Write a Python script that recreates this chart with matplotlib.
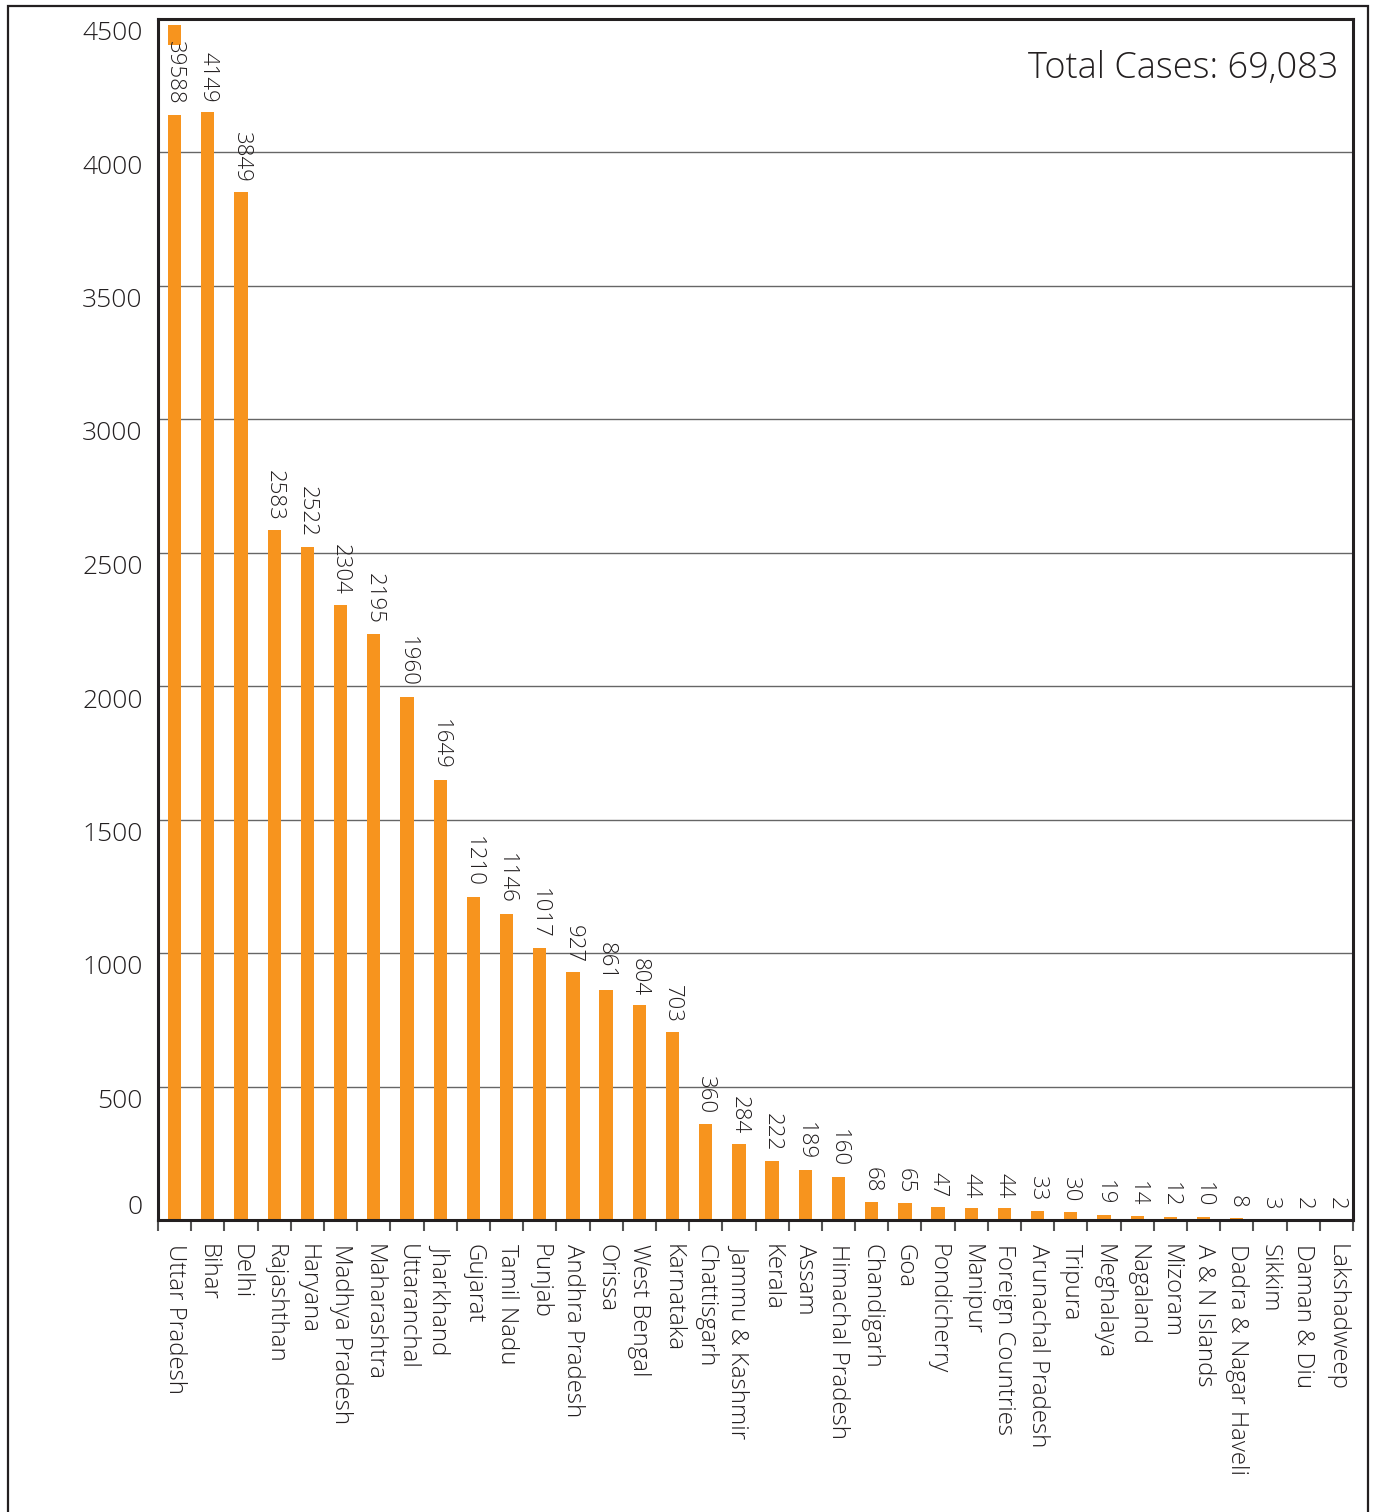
import numpy as np
import matplotlib
matplotlib.use("Agg")
import matplotlib.pyplot as plt
from matplotlib.patches import Rectangle
from matplotlib.transforms import ScaledTranslation

plt.rcParams['font.family'] = ['Open Sans', 'DejaVu Sans']
plt.rcParams['font.weight'] = 'light'

# Cases by state / territory
states = [
    "Uttar Pradesh", "Bihar", "Delhi", "Rajashthan", "Haryana", "Madhya Pradesh",
    "Maharashtra", "Uttaranchal", "Jharkhand", "Gujarat", "Tamil Nadu", "Punjab",
    "Andhra Pradesh", "Orissa", "West Bengal", "Karnataka", "Chattisgarh",
    "Jammu & Kashmir", "Kerala", "Assam", "Himachal Pradesh", "Chandigarh", "Goa",
    "Pondicherry", "Manipur", "Foreign Countries", "Arunachal Pradesh", "Tripura",
    "Meghalaya", "Nagaland", "Mizoram", "A & N Islands", "Dadra & Nagar Haveli",
    "Sikkim", "Daman & Diu", "Lakshadweep",
]
cases = [
    39588, 4149, 3849, 2583, 2522, 2304, 2195, 1960, 1649, 1210, 1146, 1017,
    927, 861, 804, 703, 360, 284, 222, 189, 160, 68, 65, 47, 44, 44, 33, 30,
    19, 14, 12, 10, 8, 3, 2, 2,
]
y_ticks = [0, 500, 1000, 1500, 2000, 2500, 3000, 3500, 4000, 4500]

total = sum(cases)

orange = "#F7941E"
ink = "#231F20"
frame = "#231F20"
ymax = 4500
# axis break for bars that run off the scale
break_lo, break_hi, cap = 4140, 4400, 4476
bar_w = 0.4

W, H = 1378, 1512
fig = plt.figure(figsize=(W / 100, H / 100), dpi=100)
ax = fig.add_axes([158 / W, 1 - 1220 / H, 1195 / W, (1220 - 18.5) / H])

x = np.arange(len(states))
vals = np.array(cases, dtype=float)
over = vals > ymax
low = np.where(over, break_lo, vals)
ax.bar(x, low, width=bar_w, color=orange, zorder=2)
ax.bar(x[over], cap - break_hi, bottom=break_hi, width=bar_w, color=orange, zorder=2)

for xi, v, h in zip(x, cases, low):
    ax.annotate(str(v), (xi, h), xytext=(0, 7), textcoords="offset points",
                rotation=270, ha="center", va="bottom", fontsize=16, color=ink)

ax.set_xlim(-0.5, len(states) - 0.5)
ax.set_ylim(0, ymax)

ax.set_yticks(y_ticks)
ax.set_yticklabels([str(t) for t in y_ticks])
ax.tick_params(axis="y", length=0, pad=11, labelsize=19, labelcolor=ink)
for t in ax.yaxis.get_major_ticks():
    dy = 15 if t.get_loc() == 0 else -12
    t.label1.set_transform(t.label1.get_transform()
                           + ScaledTranslation(0, dy / 100, fig.dpi_scale_trans))

ax.set_xticks(x)
ax.set_xticklabels(states, rotation=270, ha="center", va="top")
ax.tick_params(axis="x", which="major", length=0, pad=17, labelsize=17.3, labelcolor=ink)
ax.set_xticks(np.arange(len(states) + 1) - 0.5, minor=True)
ax.tick_params(axis="x", which="minor", length=8, width=1.5, color="#555555", direction="out")

ax.yaxis.grid(True, color="#666666", linewidth=1.0, zorder=0)
ax.set_axisbelow(True)
for s in ax.spines.values():
    s.set_linewidth(2.2)
    s.set_color(frame)

ax.text(0.9874, 0.9585, f"Total Cases: {total:,}", transform=ax.transAxes,
        ha="right", va="center", fontsize=26, color=ink)

# outer border
fig.patches.append(Rectangle((8 / W, -0.05), (1368 - 8) / W, 1.05 - 6 / H,
                             transform=fig.transFigure, fill=False,
                             edgecolor=frame, linewidth=1.6))

fig.savefig("out.png", dpi=100, facecolor="white")
